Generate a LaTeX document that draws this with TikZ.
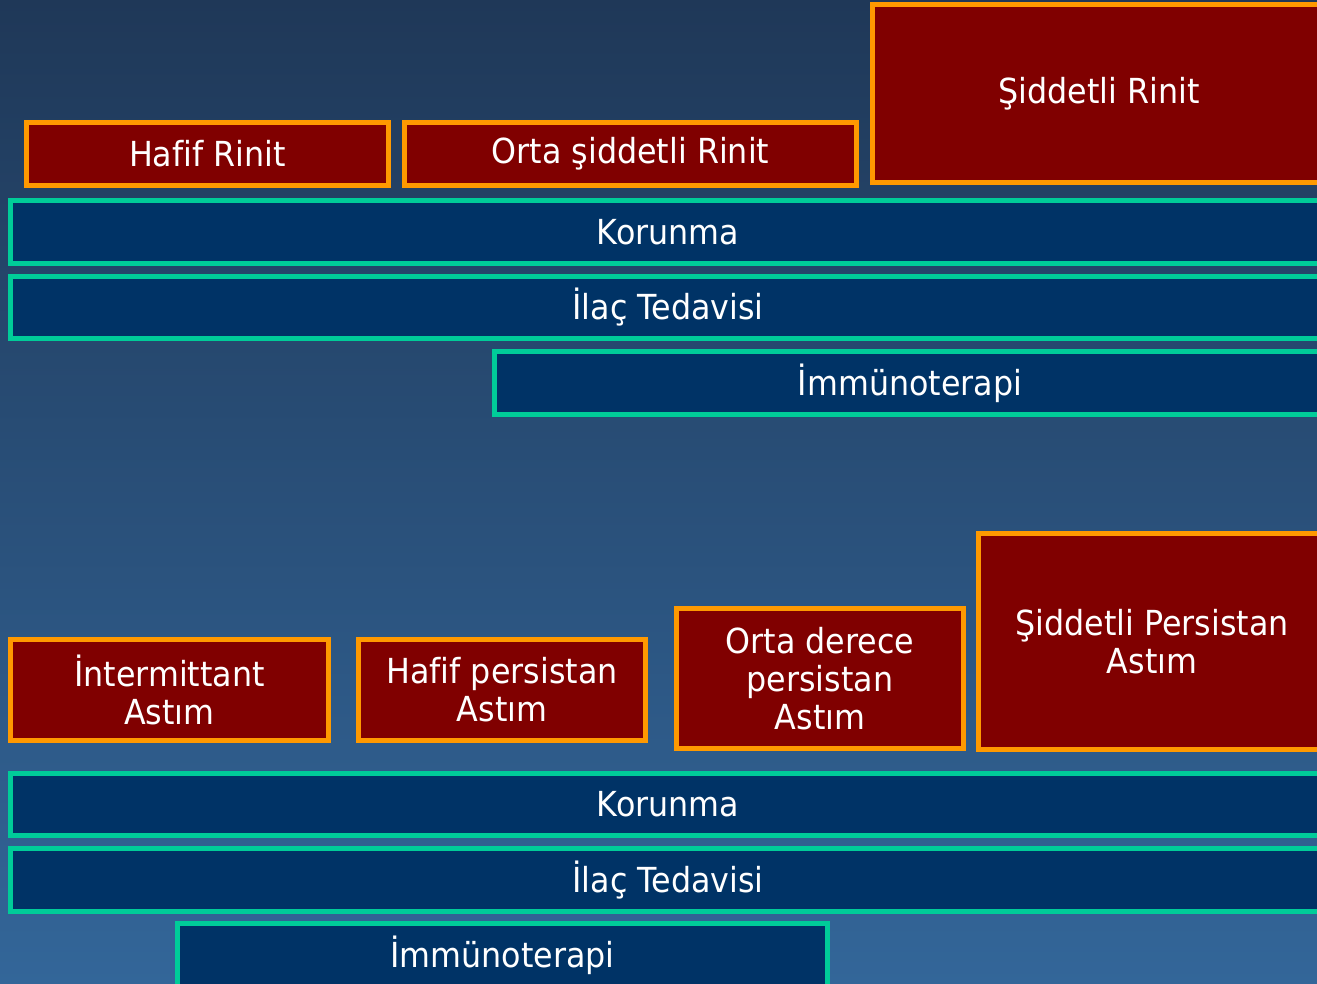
\documentclass[tikz,border=0pt]{standalone}
\usepackage{fontspec}
\setmainfont{DejaVu Sans}[FakeStretch=0.92, Ligatures=NoCommon]
\definecolor{bgtop}{HTML}{1F3858}
\definecolor{bgbot}{HTML}{336699}
\definecolor{sevred}{HTML}{800000}
\definecolor{sevedge}{HTML}{FF9900}
\definecolor{treatblue}{HTML}{003366}
\definecolor{treatedge}{HTML}{00CC99}
\tikzset{
  box/.style={rectangle, line width=5pt, inner sep=0pt, outer sep=0pt,
    text=white, align=center, font=\fontsize{34.5}{38}\selectfont},
  sevbox/.style={box, draw=sevedge, fill=sevred},
  treatbox/.style={box, draw=treatedge, fill=treatblue},
}
\begin{document}
\begin{tikzpicture}[x=1pt, y=-1pt]
  \useasboundingbox (0,0) rectangle (1317,984);
  \clip (0,0) rectangle (1317,984);
  \shade[top color=bgtop, bottom color=bgbot] (0,0) rectangle (1317,984);

  % rhinitis severity and treatment bands
  \node[sevbox, minimum width=362pt, minimum height=63pt] (hafifr) at (207.5,154) {Hafif Rinit};
  \node[sevbox, minimum width=452pt, minimum height=63pt] (ortar) at (630.5,154) {Orta şiddetli Rinit};
  \node[sevbox, minimum width=453pt, minimum height=178pt] (siddetr) at (1099,93.5) {Şiddetli Rinit};
  \node[treatbox, minimum width=1315pt, minimum height=63pt] (korr) at (668,232) {Korunma};
  \node[treatbox, minimum width=1315pt, minimum height=62pt] (ilacr) at (668,307.5) {İlaç Tedavisi};
  \node[treatbox, minimum width=831pt, minimum height=63pt] (immr) at (910,383) {İmmünoterapi};

  % asthma severity and treatment bands
  \node[sevbox, minimum width=318pt, minimum height=101pt] (intera) at (169.5,690) {İntermittant\\Astım};
  \node[sevbox, minimum width=287pt, minimum height=101pt] (hafifa) at (502,690) {Hafif persistan\\Astım};
  \node[sevbox, minimum width=287pt, minimum height=140pt] (ortaa) at (820,678.5) {Orta derece\\persistan\\Astım};
  \node[sevbox, minimum width=347pt, minimum height=216pt] (siddeta) at (1152,641.5) {Şiddetli Persistan\\Astım};
  \node[treatbox, minimum width=1315pt, minimum height=62pt] (kora) at (668,804.5) {Korunma};
  \node[treatbox, minimum width=1315pt, minimum height=63pt] (ilaca) at (668,880) {İlaç Tedavisi};
  \node[treatbox, minimum width=650pt, minimum height=63pt] (imma) at (502.5,955) {İmmünoterapi};
\end{tikzpicture}
\end{document}
